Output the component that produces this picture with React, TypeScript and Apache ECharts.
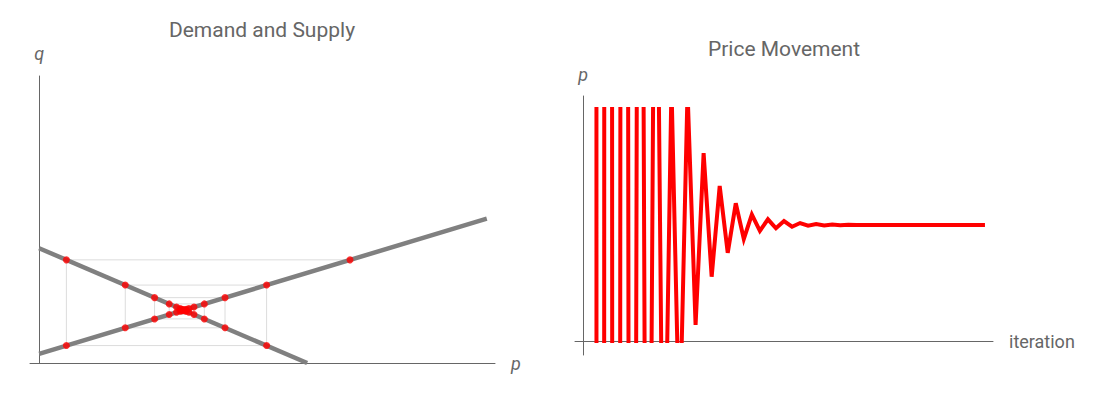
import React, { useEffect, useRef } from "react";
import * as echarts from "echarts";

// ---- Demand and Supply (left chart) ----
const demandLine: number[][] = [[0, 4.0], [5.88, 0]];
const supplyLine: number[][] = [[0, 0.32], [9.82, 5.03]];
// cobweb: price p_n and the quantity supplied at that price q_n
const cobwebPrices: number[] = [6.82, 0.598, 4.99, 1.89, 4.078, 2.533, 3.624, 2.854, 3.397, 3.014, 3.285, 3.093, 3.228, 3.133, 3.2, 3.153];
const cobwebQuantities: number[] = [3.594, 0.607, 2.715, 1.227, 2.277, 1.536, 2.059, 1.69, 1.951, 1.767, 1.897, 1.805, 1.87, 1.824, 1.856, 1.833];

// ---- Price Movement (right chart), iteration 1..50 ----
const priceByIteration: number[] = [
  3160, -1542, 907, -540, 328, -174, 111, -58.5, 52, -20,
  22, -8.5, 21.5, 1.38, 16.2, 5.54, 13.36, 7.6, 11.87, 8.8,
  10.9, 9.5, 10.49, 9.72, 10.34, 9.85, 10.17, 9.94, 10.08, 9.96,
  10.04, 9.98, 10.02, 9.99, 10.01, 10, 10, 10, 10, 10,
  10, 10, 10, 10, 10, 10, 10, 10, 10, 10,
];

const FONT = "Roboto";
const TEXT = "#666";
const AXIS = "#666";

export default function App() {
  const ref = useRef<HTMLDivElement>(null);
  useEffect(() => {
    document.body.style.margin = "0";
    const chart = echarts.init(ref.current!, null, { renderer: "svg" });

    const cobwebPath: number[][] = [];
    for (let i = 0; i < cobwebPrices.length; i++) {
      cobwebPath.push([cobwebPrices[i], cobwebQuantities[i]]);
      if (i + 1 < cobwebPrices.length) cobwebPath.push([cobwebPrices[i + 1], cobwebQuantities[i]]);
    }
    const priceSeries = priceByIteration.map((v, i) => [i + 1, v]);

    const hiddenParts = {
      axisTick: { show: false },
      axisLabel: { show: false },
      splitLine: { show: false },
    };
    const axisLine = { show: true, onZero: true, lineStyle: { color: AXIS, width: 1 } };
    const nameItalic = { color: TEXT, fontSize: 18, fontStyle: "italic", fontFamily: FONT };

    const option: any = {
      animation: false,
      textStyle: { fontFamily: FONT },
      title: [
        {
          text: "Demand and Supply",
          left: 257,
          top: 14,
          textAlign: "center",
          textStyle: { color: TEXT, fontSize: 21, fontWeight: "normal", fontFamily: FONT },
        },
        {
          text: "Price Movement",
          left: 779,
          top: 33,
          textAlign: "center",
          textStyle: { color: TEXT, fontSize: 21, fontWeight: "normal", fontFamily: FONT },
        },
      ],
      grid: [
        { left: 30, top: 76, width: 465, height: 287 },
        { left: 575, top: 96, width: 418, height: 259 },
        { left: 575, top: 109, width: 418, height: 232 },
      ],
      xAxis: [
        {
          gridIndex: 0, type: "value", min: -0.2, max: 10, ...hiddenParts, axisLine,
          name: "p", nameLocation: "end", nameGap: 16, nameTextStyle: nameItalic,
        },
        {
          gridIndex: 1, type: "value", min: -1, max: 51, ...hiddenParts, axisLine,
          name: "iteration", nameLocation: "end", nameGap: 16,
          nameTextStyle: { color: TEXT, fontSize: 18, fontFamily: FONT },
        },
        { gridIndex: 2, type: "value", min: -1, max: 51, show: false },
      ],
      yAxis: [
        {
          gridIndex: 0, type: "value", min: 0, max: 10, ...hiddenParts, axisLine,
          name: "q", nameLocation: "end", nameGap: 14, nameTextStyle: nameItalic,
        },
        {
          gridIndex: 1, type: "value", min: -1.2, max: 21.1, ...hiddenParts, axisLine,
          name: "p", nameLocation: "end", nameGap: 13, nameTextStyle: nameItalic,
        },
        { gridIndex: 2, type: "value", min: 0, max: 20, show: false },
      ],
      series: [
        {
          type: "line", xAxisIndex: 0, yAxisIndex: 0, data: cobwebPath,
          symbol: "none", lineStyle: { color: "#dcdcdc", width: 1 }, z: 1, silent: true,
        },
        {
          type: "line", xAxisIndex: 0, yAxisIndex: 0, data: demandLine,
          symbol: "none", lineStyle: { color: "#808080", width: 4.5 }, z: 2, silent: true,
        },
        {
          type: "line", xAxisIndex: 0, yAxisIndex: 0, data: supplyLine,
          symbol: "none", lineStyle: { color: "#808080", width: 4.5 }, z: 2, silent: true,
        },
        {
          type: "scatter", xAxisIndex: 0, yAxisIndex: 0, data: cobwebPath,
          symbolSize: 7, itemStyle: { color: "#ff0000" }, z: 3, silent: true,
        },
        {
          type: "line", xAxisIndex: 2, yAxisIndex: 2, data: priceSeries, clip: true,
          symbol: "none", lineStyle: { color: "#ff0000", width: 4, join: "miter" }, z: 3, silent: true,
        },
      ],
    };
    chart.setOption(option);
    return () => chart.dispose();
  }, []);
  return <div ref={ref} style={{ width: 1100, height: 394 }} />;
}
